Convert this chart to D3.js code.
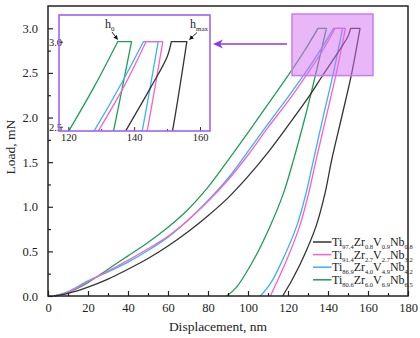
<!DOCTYPE html>
<html>
<head>
<meta charset="utf-8">
<script src="https://cdn.jsdelivr.net/npm/d3@7"></script>
<style>
  body { margin: 0; background: #fff; }
  svg text { font-family: "Liberation Serif", "DejaVu Serif", serif !important; fill: #222; }
</style>
</head>
<body>
<svg id="chart" width="420" height="338"></svg>
<script>
// legend names (main text + subscripts)
const samples = [
  ["Ti", "97.4", "Zr", "0.8", "V", "0.9", "Nb", "0.8"],
  ["Ti", "91.4", "Zr", "2.7", "V", "2.7", "Nb", "3.2"],
  ["Ti", "86.9", "Zr", "4.0", "V", "4.9", "Nb", "4.2"],
  ["Ti", "80.6", "Zr", "6.0", "V", "6.9", "Nb", "6.5"]
];
const colors = ["#333333", "#ff5fc4", "#36b3ff", "#1f9e55"];

// loading branches [displacement nm, load mN]
const load1 = [[3,0],[10,0.03],[20,0.10],[30,0.19],[40,0.30],[50,0.42],[60,0.56],[70,0.72],[80,0.90],[90,1.10],[100,1.34],[110,1.61],[120,1.91],[130,2.22],[137,2.46],[145,2.73],[150,2.91],[151.3,3.0]];
const load2 = [[3,0],[10,0.04],[20,0.16],[30,0.28],[40,0.40],[50,0.53],[60,0.67],[70,0.85],[80,1.06],[90,1.30],[100,1.58],[110,1.89],[120,2.18],[129,2.47],[137,2.74],[143.6,3.0]];
const load3 = [[3,0],[10,0.05],[20,0.17],[30,0.27],[40,0.38],[50,0.51],[60,0.66],[70,0.85],[80,1.07],[90,1.32],[100,1.62],[110,1.93],[120,2.23],[128,2.48],[136,2.75],[142.8,3.0]];
const load4 = [[3,0],[10,0.04],[20,0.15],[30,0.30],[40,0.45],[50,0.60],[60,0.77],[70,0.97],[80,1.22],[90,1.52],[100,1.83],[110,2.15],[120,2.47],[128,2.74],[135,3.0]];

// unloading branches (first point = end of the hold at 3.0 mN)
const unload1 = [[156,3.0],[151.7,2.48],[147,2.02],[141.8,1.52],[138.5,1.15],[134,0.78],[127,0.40],[122,0.18],[117.3,0]];
const unload2 = [[148.7,3.0],[144,2.48],[139,2.0],[134,1.52],[130.3,1.15],[125.8,0.78],[119.3,0.40],[114.5,0.16],[111.2,0]];
const unload3 = [[147.3,3.0],[142.5,2.48],[137.5,2.0],[132.7,1.52],[129,1.15],[124.3,0.78],[117.2,0.40],[111.5,0.15],[106.2,0]];
const unload4 = [[139.2,3.0],[133.8,2.48],[128.5,2.0],[122.7,1.52],[117.7,1.15],[111,0.78],[102.7,0.40],[94.3,0.10],[89.3,0]];

const loads = [load1, load2, load3, load4];
const unloads = [unload1, unload2, unload3, unload4];

const xTicks = d3.range(0, 181, 20);
const yTicks = [0, 0.5, 1.0, 1.5, 2.0, 2.5, 3.0];
const insetXTicks = [120, 140, 160];
const insetYTicks = [2.5, 3.0];

const FONT = "'Liberation Serif', 'DejaVu Serif', serif";
const svg = d3.select("#chart");
const x = d3.scaleLinear().domain([0, 180]).range([48, 408]);
const y = d3.scaleLinear().domain([0, 3.25]).range([296, 6]);

function curvePath(xs, ys, i) {
  const line = d3.line().x(d => xs(d[0])).y(d => ys(d[1])).curve(d3.curveCatmullRom.alpha(0.5));
  return line(loads[i]) + line(unloads[i]).replace(/^M/, "L");
}

// main curves
const gMain = svg.append("g");
[3, 2, 1, 0].forEach(i => {
  gMain.append("path")
    .attr("d", curvePath(x, y, i))
    .attr("fill", "none")
    .attr("stroke", colors[i])
    .attr("stroke-width", 1.3)
    .attr("stroke-linejoin", "round");
});

// axes (ticks point inward)
svg.append("g").attr("transform", "translate(0,296)")
  .call(d3.axisBottom(x).tickValues(xTicks).tickSize(-5).tickPadding(7).tickFormat(d3.format("d")));
svg.append("g").attr("transform", "translate(0,296)")
  .call(d3.axisBottom(x).tickValues(d3.range(10, 180, 20)).tickSize(-3).tickFormat(""));
svg.append("g").attr("transform", "translate(48,0)")
  .call(d3.axisLeft(y).tickValues(yTicks).tickSize(-5).tickPadding(10).tickFormat(d3.format(".1f")));
svg.append("g").attr("transform", "translate(48,0)")
  .call(d3.axisLeft(y).tickValues(d3.range(0.25, 3.2, 0.5)).tickSize(-3).tickFormat(""));
svg.selectAll(".domain").remove();
svg.selectAll(".tick line").attr("stroke", "#222").attr("stroke-width", 1.2);
svg.selectAll(".tick text").attr("font-size", 12.5);

svg.append("rect").attr("x", 48).attr("y", 6).attr("width", 360).attr("height", 290)
  .attr("fill", "none").attr("stroke", "#222").attr("stroke-width", 1.5);

svg.append("text").attr("x", 218).attr("y", 331).attr("text-anchor", "middle")
  .attr("font-size", 13.5).text("Displacement, nm");
svg.append("text").attr("transform", "translate(15,147) rotate(-90)").attr("text-anchor", "middle")
  .attr("font-size", 13.5).text("Load, mN");

// highlighted zoom region
const zoomX = [122, 162.5], zoomY = [2.47, 3.16];
svg.append("rect")
  .attr("x", x(zoomX[0])).attr("y", y(zoomY[1]))
  .attr("width", x(zoomX[1]) - x(zoomX[0])).attr("height", y(zoomY[0]) - y(zoomY[1]))
  .attr("fill", "#d46ef0").attr("fill-opacity", 0.5)
  .attr("stroke", "#c77cf0").attr("stroke-width", 1.5);

// arrow to inset
svg.append("line").attr("x1", 287).attr("y1", 44).attr("x2", 218).attr("y2", 44)
  .attr("stroke", "#9036f0").attr("stroke-width", 1.6);
svg.append("path").attr("d", "M213,44 L223,39.5 L220,44 L223,48.5 Z").attr("fill", "#9036f0");

// inset
const ix = d3.scaleLinear().domain([120, 160]).range([68.3, 200]);
const iy = d3.scaleLinear().domain([2.5, 3.0]).range([126.7, 41.7]);
const inset = { x0: 59, y0: 15, x1: 210, y1: 131 };

svg.append("rect").attr("x", inset.x0).attr("y", inset.y0)
  .attr("width", inset.x1 - inset.x0).attr("height", inset.y1 - inset.y0).attr("fill", "#fff");
svg.append("clipPath").attr("id", "insetClip").append("rect")
  .attr("x", inset.x0).attr("y", inset.y0)
  .attr("width", inset.x1 - inset.x0).attr("height", inset.y1 - inset.y0);
const gInset = svg.append("g").attr("clip-path", "url(#insetClip)");
[3, 2, 1, 0].forEach(i => {
  gInset.append("path")
    .attr("d", curvePath(ix, iy, i))
    .attr("fill", "none")
    .attr("stroke", colors[i])
    .attr("stroke-width", 1.3)
    .attr("stroke-linejoin", "round");
});

const gi = svg.append("g");
gi.append("g").attr("transform", `translate(0,${inset.y1})`)
  .call(d3.axisBottom(ix).tickValues(insetXTicks).tickSize(-4).tickPadding(3).tickFormat(d3.format("d")));
gi.append("g").attr("transform", `translate(0,${inset.y1})`)
  .call(d3.axisBottom(ix).tickValues([130, 150]).tickSize(-2).tickFormat(""));
gi.append("g").attr("transform", `translate(${inset.x0},0)`)
  .call(d3.axisLeft(iy).tickValues(insetYTicks).tickSize(-4).tickPadding(-3).tickFormat(d3.format(".1f")));
gi.selectAll(".domain").remove();
gi.selectAll(".tick line").attr("stroke", "#333").attr("stroke-width", 1);
gi.selectAll(".tick text").attr("font-size", 10.5);

svg.append("rect").attr("x", inset.x0).attr("y", inset.y0)
  .attr("width", inset.x1 - inset.x0).attr("height", inset.y1 - inset.y0)
  .attr("fill", "none").attr("stroke", "#a062f5").attr("stroke-width", 1.6);

// h0 / hmax annotations
function subLabel(px, py, main, sub) {
  const t = svg.append("text").attr("x", px).attr("y", py).attr("font-size", 12);
  t.append("tspan").text(main);
  t.append("tspan").attr("font-size", 7).attr("dy", 3).text(sub);
}
subLabel(105, 28, "h", "0");
subLabel(190, 28, "h", "max");
svg.append("defs").append("marker").attr("id", "ah").attr("viewBox", "0 0 10 10")
  .attr("refX", 9).attr("refY", 5).attr("markerWidth", 5).attr("markerHeight", 5)
  .attr("orient", "auto").append("path").attr("d", "M0,0 L10,5 L0,10 Z").attr("fill", "#111");
svg.append("line").attr("x1", 112).attr("y1", 32).attr("x2", 117.5).attr("y2", 39.5)
  .attr("stroke", "#111").attr("stroke-width", 0.9).attr("marker-end", "url(#ah)");
svg.append("line").attr("x1", 197).attr("y1", 32.5).attr("x2", 189.5).attr("y2", 39.5)
  .attr("stroke", "#111").attr("stroke-width", 0.9).attr("marker-end", "url(#ah)");

// legend
const legend = svg.append("g");
samples.forEach((parts, i) => {
  const ly = 242 + i * 12.6;
  legend.append("line").attr("x1", 313).attr("x2", 331.5).attr("y1", ly).attr("y2", ly)
    .attr("stroke", colors[i]).attr("stroke-width", 1.5);
  const t = legend.append("text").attr("x", 332).attr("y", ly + 4).attr("font-size", 12);
  parts.forEach((p, k) => {
    if (k % 2 === 0) t.append("tspan").attr("font-size", 12).attr("dy", k === 0 ? 0 : -3).text(p);
    else t.append("tspan").attr("font-size", 6.5).attr("dy", 3).text(p);
  });
});

svg.selectAll("text").style("font-family", FONT);
</script>
</body>
</html>
